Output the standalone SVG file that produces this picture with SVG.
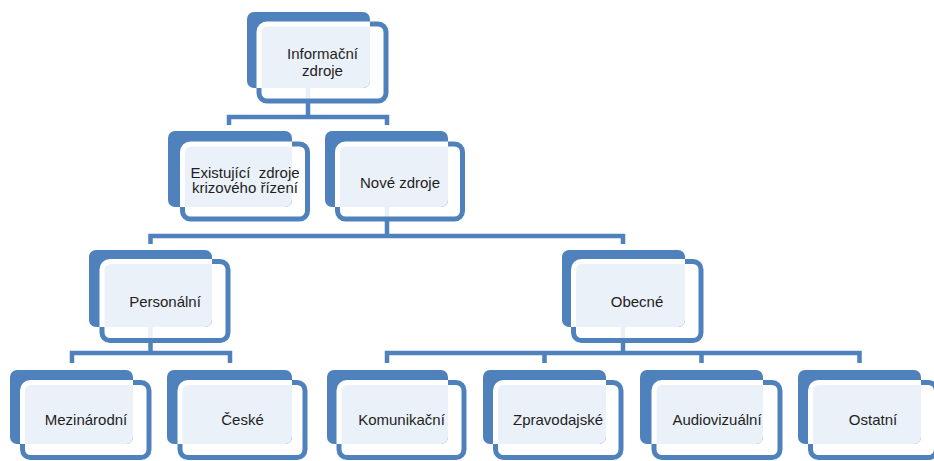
<svg xmlns="http://www.w3.org/2000/svg" width="934" height="461" viewBox="0 0 934 461">
<style>
.front{fill:#ffffff;fill-opacity:0.88;stroke:#4F81BD;stroke-width:5}
.back{fill:#4F81BD}
.inner{fill:#EBF1F9;stroke:#ffffff;stroke-width:5}
.lbl{font-family:"Liberation Sans",Arial,sans-serif;font-size:15px;fill:#1e1e1e;text-anchor:middle}
.conn{fill:none;stroke:#4F81BD;stroke-width:4.5;stroke-linejoin:miter}
</style>
<defs>
<clipPath id="c0"><rect x="247" y="12" width="123" height="76" rx="7"/></clipPath>
<clipPath id="c1"><rect x="168" y="131" width="124" height="76" rx="7"/></clipPath>
<clipPath id="c2"><rect x="325" y="131" width="123" height="76" rx="7"/></clipPath>
<clipPath id="c3"><rect x="89" y="250" width="123" height="77" rx="7"/></clipPath>
<clipPath id="c4"><rect x="562" y="250" width="123" height="77" rx="7"/></clipPath>
<clipPath id="c5"><rect x="10" y="370" width="123" height="74" rx="7"/></clipPath>
<clipPath id="c6"><rect x="167" y="370" width="125" height="74" rx="7"/></clipPath>
<clipPath id="c7"><rect x="327" y="370" width="121" height="74" rx="7"/></clipPath>
<clipPath id="c8"><rect x="483" y="370" width="123" height="74" rx="7"/></clipPath>
<clipPath id="c9"><rect x="640" y="370" width="123" height="74" rx="7"/></clipPath>
<clipPath id="c10"><rect x="798" y="370" width="123" height="74" rx="7"/></clipPath>
</defs>
<g id="connectors">
<path class="conn" d="M308,88 V117 M229,125 V117 H387 V125"/>
<path class="conn" d="M387,207 V236 M150.5,244 V236 H623 V244"/>
<path class="conn" d="M150.5,327 V353 M72,363 V353 H230 V363"/>
<path class="conn" d="M623,327 V353 M387,363 V353 H859.5 V363 M544.5,353 V363 M701.5,353 V363"/>
</g>
<g id="n-informacni">
<rect class="front" x="259" y="24" width="127" height="77" rx="8"/>
<rect class="back" x="247" y="12" width="123" height="76" rx="7"/>
<rect class="inner" x="259" y="24" width="127" height="77" rx="8" clip-path="url(#c0)"/>
<text class="lbl" x="322.5" y="59">Informační</text>
<text class="lbl" x="322.5" y="76">zdroje</text>
</g>
<g id="n-existujici">
<rect class="front" x="182.5" y="144" width="125" height="75" rx="8"/>
<rect class="back" x="168" y="131" width="124" height="76" rx="7"/>
<rect class="inner" x="182.5" y="144" width="125" height="75" rx="8" clip-path="url(#c1)"/>
<text class="lbl" x="245" y="177.5" style="white-space:pre">Existující  zdroje</text>
<text class="lbl" x="245" y="193">krizového řízení</text>
</g>
<g id="n-nove">
<rect class="front" x="337.5" y="144" width="125" height="75" rx="8"/>
<rect class="back" x="325" y="131" width="123" height="76" rx="7"/>
<rect class="inner" x="337.5" y="144" width="125" height="75" rx="8" clip-path="url(#c2)"/>
<text class="lbl" x="400" y="187.5">Nové zdroje</text>
</g>
<g id="n-personalni">
<rect class="front" x="102" y="261.5" width="126" height="79" rx="8"/>
<rect class="back" x="89" y="250" width="123" height="77" rx="7"/>
<rect class="inner" x="102" y="261.5" width="126" height="79" rx="8" clip-path="url(#c3)"/>
<text class="lbl" x="165" y="306.5">Personální</text>
</g>
<g id="n-obecne">
<rect class="front" x="573.5" y="261.5" width="127.5" height="79" rx="8"/>
<rect class="back" x="562" y="250" width="123" height="77" rx="7"/>
<rect class="inner" x="573.5" y="261.5" width="127.5" height="79" rx="8" clip-path="url(#c4)"/>
<text class="lbl" x="637" y="306.5">Obecné</text>
</g>
<g id="n-mezinarodni">
<rect class="front" x="22.5" y="382.5" width="126.5" height="75" rx="8"/>
<rect class="back" x="10" y="370" width="123" height="74" rx="7"/>
<rect class="inner" x="22.5" y="382.5" width="126.5" height="75" rx="8" clip-path="url(#c5)"/>
<text class="lbl" x="86" y="425">Mezinárodní</text>
</g>
<g id="n-ceske">
<rect class="front" x="180" y="382.5" width="125" height="75" rx="8"/>
<rect class="back" x="167" y="370" width="125" height="74" rx="7"/>
<rect class="inner" x="180" y="382.5" width="125" height="75" rx="8" clip-path="url(#c6)"/>
<text class="lbl" x="242.5" y="425">České</text>
</g>
<g id="n-komunikacni">
<rect class="front" x="339" y="382.5" width="125" height="75" rx="8"/>
<rect class="back" x="327" y="370" width="121" height="74" rx="7"/>
<rect class="inner" x="339" y="382.5" width="125" height="75" rx="8" clip-path="url(#c7)"/>
<text class="lbl" x="401.5" y="425">Komunikační</text>
</g>
<g id="n-zpravodajske">
<rect class="front" x="495.5" y="382.5" width="125.5" height="75" rx="8"/>
<rect class="back" x="483" y="370" width="123" height="74" rx="7"/>
<rect class="inner" x="495.5" y="382.5" width="125.5" height="75" rx="8" clip-path="url(#c8)"/>
<text class="lbl" x="558" y="425">Zpravodajské</text>
</g>
<g id="n-audiovizualni">
<rect class="front" x="654" y="382.5" width="126" height="75" rx="8"/>
<rect class="back" x="640" y="370" width="123" height="74" rx="7"/>
<rect class="inner" x="654" y="382.5" width="126" height="75" rx="8" clip-path="url(#c9)"/>
<text class="lbl" x="717" y="425">Audiovizuální</text>
</g>
<g id="n-ostatni">
<rect class="front" x="810.5" y="382.5" width="126" height="75" rx="8"/>
<rect class="back" x="798" y="370" width="123" height="74" rx="7"/>
<rect class="inner" x="810.5" y="382.5" width="126" height="75" rx="8" clip-path="url(#c10)"/>
<text class="lbl" x="873" y="425">Ostatní</text>
</g>
</svg>
